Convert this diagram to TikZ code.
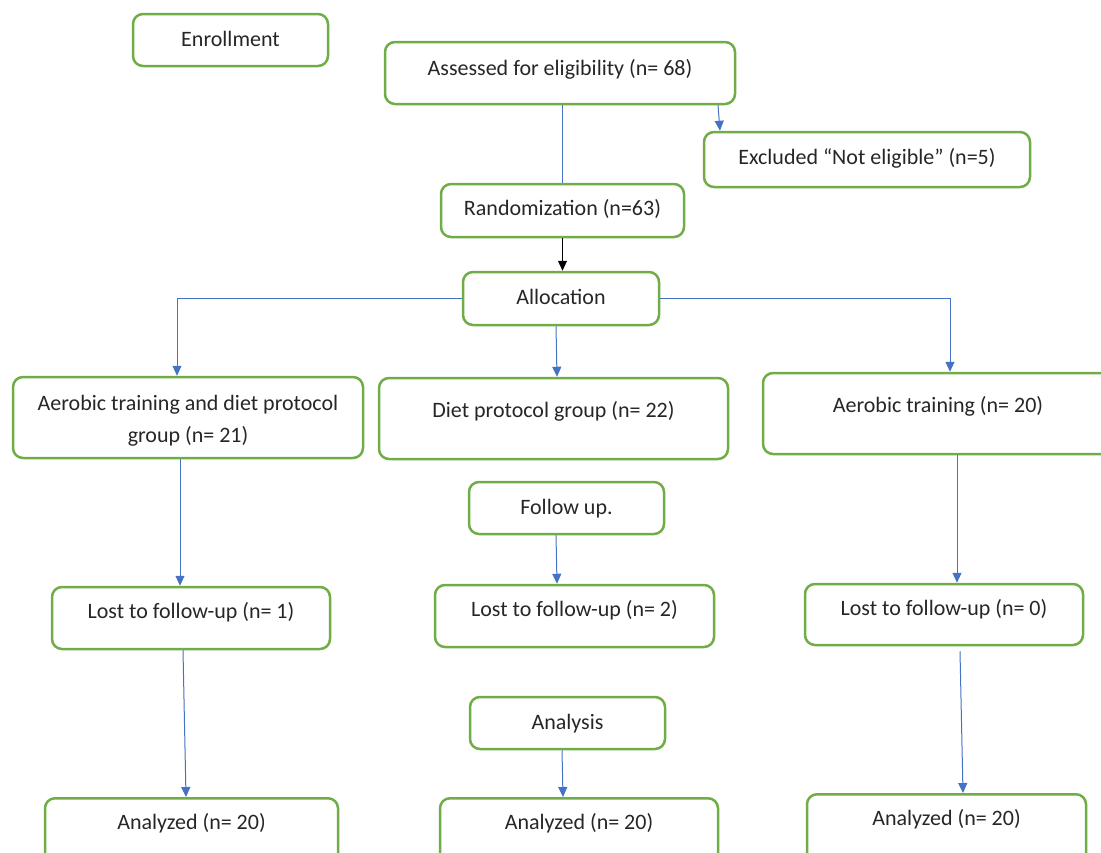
\documentclass[tikz,border=0pt]{standalone}
\usepackage{fontspec}
\setmainfont{Carlito}
\usetikzlibrary{arrows.meta,positioning}
\definecolor{boxgreen}{HTML}{70AD47}
\definecolor{linkblue}{HTML}{4472C4}

\begin{document}
\begin{tikzpicture}[x=1pt,y=-1pt,
    box/.style={draw=boxgreen,line width=2.5pt,rounded corners=10pt,align=center,
        font=\fontsize{22}{32}\selectfont,text=black!85,inner sep=4pt,
        text height=16pt,text depth=4pt},
    link/.style={draw=linkblue,line width=1pt,-{Triangle[length=10pt,width=9pt]}}]
            \useasboundingbox (0,0) rectangle (1101,852);
            \node[box,minimum width=195pt,minimum height=52pt] (enroll) at (230.5,40) {Enrollment};
            \node[box,minimum width=350pt,minimum height=62pt,text depth=12pt] (assessed) at (560,73) {Assessed for eligibility (n= 68)};
            \node[box,minimum width=326pt,minimum height=55pt,text depth=6pt] (excluded) at (867,159.5) {Excluded “Not eligible” (n=5)};
            \node[box,minimum width=243pt,minimum height=53pt,text depth=6pt] (random) at (562.5,210.5) {Randomization (n=63)};
            \node[box,minimum width=196pt,minimum height=53pt] (alloc) at (561,298.5) {Allocation};
            \node[box,minimum width=350pt,minimum height=81pt,text height=52pt,text depth=2pt] (aerodiet) at (188,417.5) {Aerobic training and diet protocol\\group (n= 21)};
            \node[box,minimum width=349pt,minimum height=81pt,text depth=19pt] (diet) at (553.5,418.5) {Diet protocol group (n= 22)};
            \node[box,minimum width=350pt,minimum height=81pt,text depth=19pt] (aerobic) at (938,413.5) {Aerobic training (n= 20)};
            \node[box,minimum width=195pt,minimum height=52pt] (follow) at (566.5,508) {Follow up.};
            \node[box,minimum width=278pt,minimum height=62pt,text depth=16pt] (lost_1) at (191,618) {Lost to follow-up (n= 1)};
            \node[box,minimum width=279pt,minimum height=62pt,text depth=16pt] (lost_2) at (574.5,616) {Lost to follow-up (n= 2)};
            \node[box,minimum width=278pt,minimum height=61pt,text depth=15pt] (lost_0) at (944,614.5) {Lost to follow-up (n= 0)};
            \node[box,minimum width=195pt,minimum height=52pt] (analysis) at (567.5,723) {Analysis};
            \node[box,minimum width=293pt,minimum height=80pt,text depth=34pt,anchor=north] (analyzed_1) at (191.5,797) {Analyzed (n= 20)};
            \node[box,minimum width=278pt,minimum height=80pt,text depth=34pt,anchor=north] (analyzed_2) at (579,797) {Analyzed (n= 20)};
            \node[box,minimum width=279pt,minimum height=80pt,text depth=34pt,anchor=north] (analyzed_0) at (946.5,793) {Analyzed (n= 20)};
            \draw[link,-] (assessed.south -| random.north) -- (random.north);
            \draw[link,draw=black] (random.south) -- (random.south |- alloc.north);
            \draw[link] (alloc.west) -| ([xshift=-11pt]aerodiet.north);
            \draw[link] (alloc.east) -| ([xshift=12pt]aerobic.north);
            \path[every edge/.style={link}]
                ([xshift=158pt]assessed.south)
                    edge ([xshift=-147pt]excluded.north)
                ([xshift=-5pt]alloc.south)
                    edge ([xshift=3.5pt]diet.north)
                ([xshift=-8pt]aerodiet.south)
                    edge ([xshift=-11pt]lost_1.north)
                ([xshift=-10.5pt]follow.south)
                    edge ([xshift=-17.5pt]lost_2.north)
                ([xshift=19pt]aerobic.south)
                    edge ([xshift=13pt]lost_0.north)
                ([xshift=-8pt]lost_1.south)
                    edge ([xshift=-5.5pt]analyzed_1.north)
                ([xshift=-5.5pt]analysis.south)
                    edge ([xshift=-16pt]analyzed_2.north)
                ([xshift=16pt,yshift=-5pt]lost_0.south)
                    edge ([xshift=16.5pt]analyzed_0.north);
        \end{tikzpicture}
\end{document}
